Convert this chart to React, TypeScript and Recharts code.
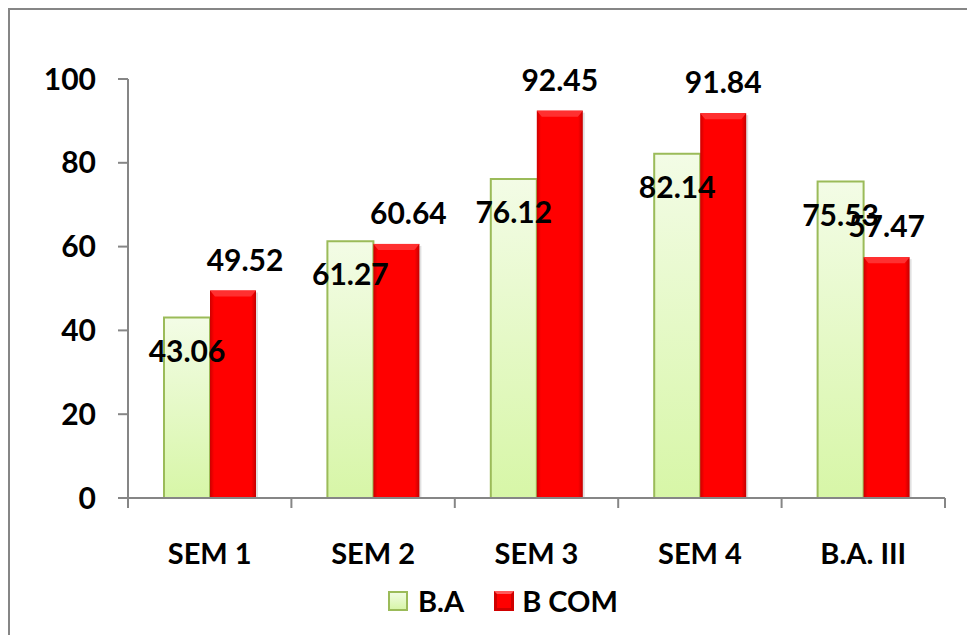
import React from "react";
import { BarChart, Bar, XAxis, YAxis, Legend, LabelList } from "recharts";

const categories = ["SEM 1", "SEM 2", "SEM 3", "SEM 4", "B.A. III"];
const baValues = [43.06, 61.27, 76.12, 82.14, 75.53];
const bcomValues = [49.52, 60.64, 92.45, 91.84, 57.47];
const yTicks = [0, 20, 40, 60, 80, 100];

const data = categories.map((name, i) => ({ name, ba: baValues[i], bcom: bcomValues[i] }));

const FONT = "Lato, 'Open Sans', sans-serif";
const AXIS = "#868686";
const CHART_W = 960;
const CHART_H = 620;
const MARGIN = { top: 69, right: 25, bottom: 72, left: 0 };
const Y_WIDTH = 118;
const BAND = (CHART_W - MARGIN.left - MARGIN.right - Y_WIDTH) / categories.length;

const XTick = (props: any) => {
  const { x, y, payload, index } = props;
  const axisY = y - 45;
  return (
    <g>
      <line x1={x - BAND / 2} x2={x - BAND / 2} y1={axisY} y2={axisY + 10} stroke={AXIS} strokeWidth={2} />
      {index === categories.length - 1 && (
        <line x1={x + BAND / 2} x2={x + BAND / 2} y1={axisY} y2={axisY + 10} stroke={AXIS} strokeWidth={2} />
      )}
      <text x={x} y={y + 21} textAnchor="middle" fontSize={29} fontWeight={700} fill="#000" fontFamily={FONT}>
        {payload.value}
      </text>
    </g>
  );
};

const RedBar = (props: any) => {
  const { x, y, width, height } = props;
  if (!height) return null;
  return (
    <g>
      <rect x={x + 2} y={y + 2} width={width} height={height - 2} fill="#000" opacity={0.12} />
      <rect x={x} y={y} width={width} height={height} fill="url(#redBody)" />
      <polygon
        points={`${x},${y} ${x + width},${y} ${x + width - 5},${y + 6} ${x + 5},${y + 6}`}
        fill="#ff3030"
      />
    </g>
  );
};

const greenLabel = (props: any) => {
  const { x, y, width, value } = props;
  return (
    <text x={x + width / 2} y={y + 44} textAnchor="middle" fontSize={30} fontWeight={700} fill="#000" fontFamily={FONT}>
      {value}
    </text>
  );
};

const redLabel = (props: any) => {
  const { x, y, width, value, index } = props;
  // the first two labels sit a little right of their bars in the original
  const dx = index < 2 ? 12 : 0;
  return (
    <text x={x + width / 2 + dx} y={y - 20} textAnchor="middle" fontSize={30} fontWeight={700} fill="#000" fontFamily={FONT}>
      {value}
    </text>
  );
};

const LegendContent = () => (
  <div style={{ display: "flex", alignItems: "center", fontFamily: FONT, fontWeight: 700, fontSize: 29, color: "#000" }}>
    <svg width={20} height={20} style={{ marginRight: 10 }}>
      <rect x={1} y={1} width={18} height={18} fill="url(#greenLeg)" stroke="#9bbb59" strokeWidth={2} />
      <defs>
        <linearGradient id="greenLeg" x1="0" y1="0" x2="0" y2="1">
          <stop offset="0%" stopColor="#f2fce4" />
          <stop offset="100%" stopColor="#d6f5a6" />
        </linearGradient>
      </defs>
    </svg>
    <span style={{ marginRight: 30 }}>B.A</span>
    <svg width={20} height={20} style={{ marginRight: 8 }}>
      <rect x={0} y={0} width={20} height={20} fill="#d00000" />
      <rect x={3} y={3} width={14} height={14} fill="#ff0000" />
      <polygon points="0,0 20,0 17,3 3,3" fill="#ff5a5a" />
    </svg>
    <span>B COM</span>
  </div>
);

export default function App() {
  return (
    <div
      style={{
        width: 967,
        height: 627,
        overflow: "hidden",
        boxSizing: "border-box",
        borderLeft: `2px solid ${AXIS}`,
        borderTop: `2px solid ${AXIS}`,
        background: "#fff",
      }}
    >
      <BarChart width={CHART_W} height={CHART_H} data={data} margin={MARGIN} barGap={0} style={{ fontFamily: FONT }}>
        <defs>
          <linearGradient id="greenBody" x1="0" y1="0" x2="0" y2="1">
            <stop offset="0%" stopColor="#f3fce6" />
            <stop offset="100%" stopColor="#d7f6a7" />
          </linearGradient>
          <linearGradient id="redBody" x1="0" y1="0" x2="1" y2="0">
            <stop offset="0%" stopColor="#cc0000" />
            <stop offset="9%" stopColor="#ff0000" />
            <stop offset="90%" stopColor="#ff0000" />
            <stop offset="100%" stopColor="#c40000" />
          </linearGradient>
        </defs>
        <XAxis
          dataKey="name"
          axisLine={{ stroke: AXIS, strokeWidth: 2 }}
          tickLine={false}
          tickSize={10}
          tickMargin={35}
          height={60}
          interval={0}
          tick={<XTick />}
        />
        <YAxis
          domain={[0, 100]}
          ticks={yTicks}
          width={Y_WIDTH}
          axisLine={{ stroke: AXIS, strokeWidth: 2 }}
          tickLine={{ stroke: AXIS, strokeWidth: 2 }}
          tickSize={10}
          tickMargin={22}
          tick={{ fill: "#000", fontSize: 30, fontWeight: 700, fontFamily: FONT }}
        />
        <Legend
          layout="vertical"
          align="center"
          verticalAlign="middle"
          content={<LegendContent />}
          wrapperStyle={{ top: 573, left: 378, width: "auto" }}
        />
        <Bar dataKey="ba" name="B.A" barSize={46} fill="url(#greenBody)" stroke="#9bbb59" strokeWidth={2} isAnimationActive={false}>
          <LabelList dataKey="ba" content={greenLabel} />
        </Bar>
        <Bar dataKey="bcom" name="B COM" barSize={46} fill="#ff0000" shape={<RedBar />} isAnimationActive={false}>
          <LabelList dataKey="bcom" content={redLabel} />
        </Bar>
      </BarChart>
    </div>
  );
}
